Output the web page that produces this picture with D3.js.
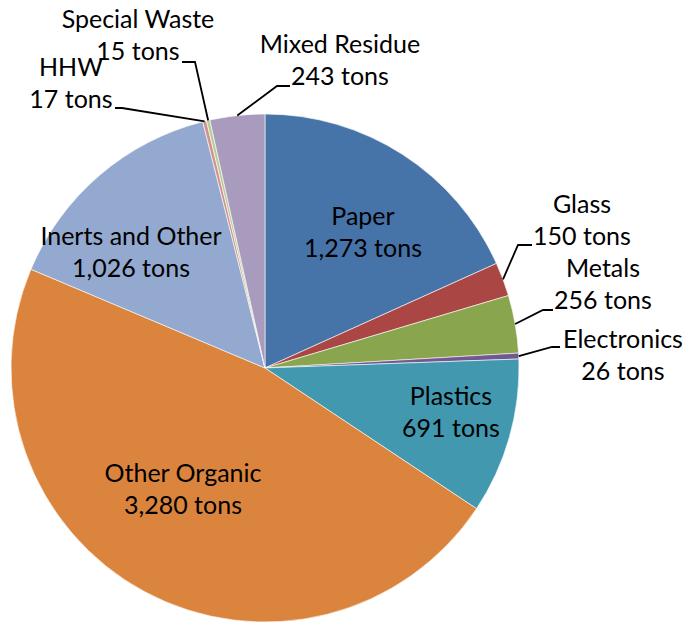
<!DOCTYPE html>
<html>
<head>
<meta charset="utf-8">
<script src="https://cdn.jsdelivr.net/npm/d3@7"></script>
<style>
  html, body { margin: 0; padding: 0; background: #fff; }
  svg { display: block; }
  text { font-family: Lato, "Open Sans", sans-serif; font-size: 25px; fill: #000; }
</style>
</head>
<body>
<svg id="chart" width="684" height="623"></svg>
<script>
// Waste composition (tons), clockwise from 12 o'clock
const categories = ["Paper", "Glass", "Metals", "Electronics", "Plastics",
  "Other Organic", "Inerts and Other", "HHW", "Special Waste", "Mixed Residue"];
const values = [1273, 150, 256, 26, 691, 3280, 1026, 17, 15, 243];
const colors = ["#4673A8", "#AA4643", "#89A54E", "#71588F", "#4198AF",
  "#DB843D", "#93A9CF", "#D19392", "#B9CD96", "#A99BBD"];

// label placement: label centre x, first-line baseline, optional leader elbow/end
const labelLayout = {
  "Paper":            { x: 363, y: 225 },
  "Glass":            { x: 582, y: 213, elbow: [518, 245], end: [532, 245] },
  "Metals":           { x: 603, y: 277, elbow: [543, 310], end: [553, 310] },
  "Electronics":      { x: 623, y: 348, elbow: [552, 347], end: [560, 347] },
  "Plastics":         { x: 451, y: 405 },
  "Other Organic":    { x: 183, y: 482 },
  "Inerts and Other": { x: 131, y: 245 },
  "HHW":              { x: 71,  y: 76,  elbow: [122, 108], end: [115, 108] },
  "Special Waste":    { x: 138, y: 28,  elbow: [195, 62],  end: [182, 62] },
  "Mixed Residue":    { x: 340, y: 53,  elbow: [277, 86],  end: [290, 86] }
};

const cx = 265, cy = 368, r = 254, lineGap = 32;
const svg = d3.select("#chart");
const g = svg.append("g").attr("transform", `translate(${cx},${cy})`);

const data = categories.map((c, i) => ({ name: c, value: values[i], color: colors[i] }));
const pie = d3.pie().value(d => d.value).sort(null);
const arc = d3.arc().innerRadius(0).outerRadius(r);
const arcs = pie(data);

g.selectAll("path.slice")
  .data(arcs)
  .join("path")
  .attr("class", "slice")
  .attr("d", arc)
  .attr("fill", d => d.data.color)
  .attr("stroke", "#fff")
  .attr("stroke-width", 0.6);

// leader lines from slice edge to outside labels
const fmt = d3.format(",");
arcs.forEach(a => {
  const L = labelLayout[a.data.name];
  if (!L.elbow) return;
  const mid = (a.startAngle + a.endAngle) / 2;
  const p0 = [cx + r * Math.sin(mid), cy - r * Math.cos(mid)];
  svg.append("polyline")
    .attr("points", [p0, L.elbow, L.end].map(p => p.join(",")).join(" "))
    .attr("fill", "none")
    .attr("stroke", "#000")
    .attr("stroke-width", 1.8);
});

const labels = svg.append("g");
arcs.forEach(a => {
  const L = labelLayout[a.data.name];
  const t = labels.append("text").attr("text-anchor", "middle");
  t.append("tspan").attr("x", L.x).attr("y", L.y).text(a.data.name);
  t.append("tspan").attr("x", L.x).attr("y", L.y + lineGap).text(fmt(a.data.value) + " tons");
});
</script>
</body>
</html>
